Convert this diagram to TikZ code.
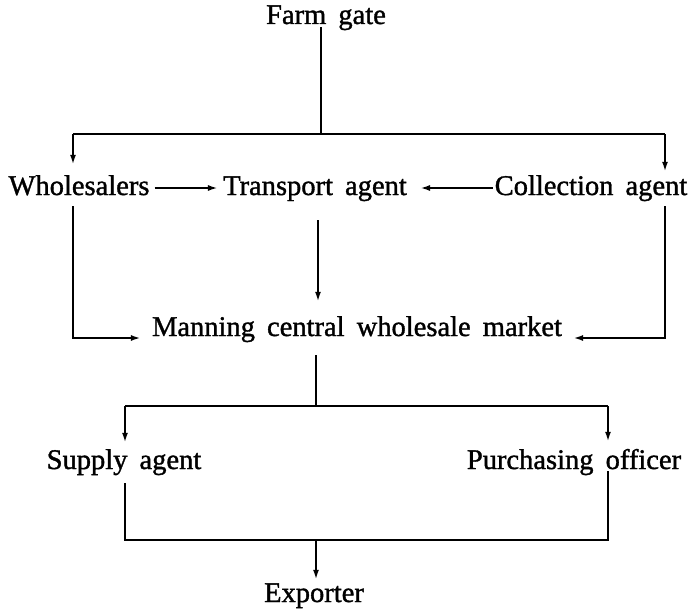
\documentclass[tikz,border=0pt]{standalone}
\usepackage{fontspec}
\setmainfont{Liberation Serif}[WordSpace=1.7, FakeBold=1.2]
\usetikzlibrary{arrows.meta}
\begin{document}
\begin{tikzpicture}[x=1pt,y=-1pt,
  lbl/.style={inner xsep=5pt, inner ysep=0pt, text height=21pt, text depth=7pt,
              anchor=base, font=\fontsize{28.5}{30}\selectfont},
  ln/.style={line width=2.2pt},
  ar/.style={ln, -{Latex[length=10pt,width=6pt]}}]
\useasboundingbox (0,0) rectangle (691,610);
% labels
\node[lbl] (farm)   at (326,24)  {Farm gate};
\node[lbl] (whole)  at (79,195)  {Wholesalers};
\node[lbl] (trans)  at (315,195) {Transport agent};
\node[lbl] (coll)   at (591,195) {Collection agent};
\node[lbl] (mann)   at (357,336) {Manning central wholesale market};
\node[lbl] (supply) at (124,469) {Supply agent};
\node[lbl] (purch)  at (574,469) {Purchasing officer};
\node[lbl] (exp)    at (314,602) {Exporter};
% junction points
\coordinate (jt) at (321,134);
\coordinate (L1) at (73,134);
\coordinate (R1) at (665,134);
\coordinate (L2) at (73,338);
\coordinate (R2) at (665,338);
\coordinate (tv) at (318,220);
\coordinate (mv) at (316,355);
\coordinate (SL) at (125,406);
\coordinate (SR) at (608,406);
\coordinate (BL) at (125,540);
\coordinate (BR) at (608,540);
\coordinate (ev) at (316,540);
% top branch
\draw[ln, shorten <=-4pt] (farm.south -| jt) -- (jt);
\draw[ln] (L1) -- (R1);
\draw[ar, shorten >=9pt] (L1) -- (L1 |- whole.north);
\draw[ar, shorten >=2pt] (R1) -- (R1 |- coll.north);
% middle row
\draw[ar] (whole.east) -- (trans.west);
\draw[ar, shorten <=-3pt, shorten >=8pt] (coll.west) -- (trans.east);
\draw[ar, shorten >=13pt] (tv) -- (tv |- mann.north);
\draw[ar, shorten <=4pt, shorten >=6pt] (L1 |- whole.south) -- (L2) -- (mann.west |- L2);
\draw[ar, shorten <=4pt, shorten >=6pt] (R1 |- coll.south) -- (R2) -- (mann.east |- R2);
% lower branch
\draw[ln, shorten <=12pt] (mann.south -| mv) -- (mv |- SL);
\draw[ln] (SL) -- (SR);
\draw[ar, shorten >=5pt] (SL) -- (SL |- supply.north);
\draw[ar, shorten >=6pt] (SR) -- (SR |- purch.north);
\draw[ln, shorten <=7pt, shorten >=-5pt] (BL |- supply.south) -- (BL) -- (BR) -- (BR |- purch.south);
\draw[ar, shorten >=1pt] (ev) -- (ev |- exp.north);
\end{tikzpicture}
\end{document}
